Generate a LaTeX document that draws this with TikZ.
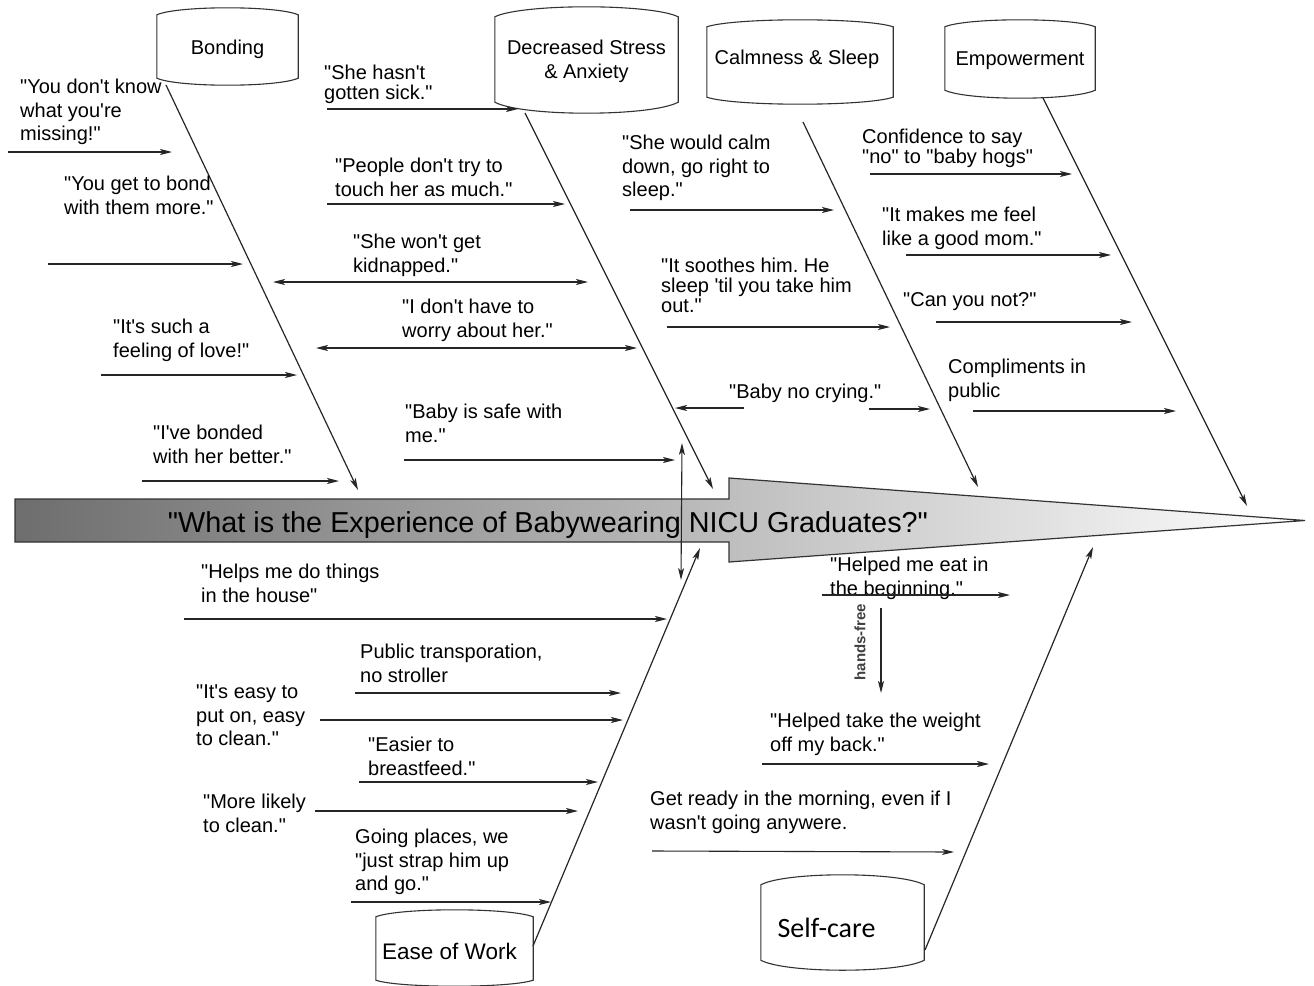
\documentclass[tikz,border=0pt]{standalone}
\usepackage{fontspec}
\setmainfont{Liberation Sans}[Ligatures=TeXOff]
\newfontfamily\calib{Carlito}
\usetikzlibrary{arrows.meta,calc}
\frenchspacing
\newcommand\drumpath[3]{%
  \draw[drumline] (#1.north west) -- (#1.south west)
    .. controls ($(#1.south west)!0.15!(#1.south east)+(0,#3*1.333)$) and ($(#1.south west)!0.85!(#1.south east)+(0,#3*1.333)$) .. (#1.south east)
    -- (#1.north east)
    .. controls ($(#1.north west)!0.85!(#1.north east)-(0,#2*1.333)$) and ($(#1.north west)!0.15!(#1.north east)-(0,#2*1.333)$) .. (#1.north west) -- cycle;}
\tikzset{
  every node/.style={inner sep=0pt},
  txt/.style={font=\fontsize{20}{23.5}\selectfont, align=left, anchor=north west},
  txtt/.style={font=\fontsize{20}{20}\selectfont, align=left, anchor=north west},
  drum/.style={font=\fontsize{20}{24}\selectfont, align=center},
  drumline/.style={draw=black!80, line width=1.1pt},
  ln/.style={line width=1.1pt, draw=black!85, ->},
  dbl/.style={line width=1.1pt, draw=black!85, <->},
  bone/.style={line width=1.2pt, draw=black!85, ->},
}
\begin{document}
\begin{tikzpicture}[x=1pt,y=-1pt,>={Stealth[length=12pt,width=6pt,inset=3pt]}]
\useasboundingbox (0,0) rectangle (1314,985);
% spine
\path[draw=black!80, line width=1.2pt, left color=black!57, right color=white]
  (15,499) -- (729,499) -- (729,478) -- (1305,520.5) -- (729,562) -- (729,542) -- (15,542) -- cycle;
\node[font=\fontsize{28.8}{30}\selectfont] (q) at (548,525) {"What is the Experience of Babywearing NICU Graduates?"};

% category drums
\node[drum, text height=15.4pt, text depth=0pt, minimum width=141pt, minimum height=63pt] (bond) at (227.5,46.5) {Bonding};
\node[drum, minimum width=183pt, minimum height=85pt] (stress) at (586.5,59.5) {\rule{0pt}{18.5pt}Decreased Stress\\\& Anxiety};
\node[drum, text height=4.4pt, text depth=0pt, minimum width=186pt, minimum height=70pt] (calm) at (800,62) {Calmness \& Sleep\hspace*{6pt}};
\node[drum, text height=13.4pt, text depth=0pt, minimum width=150pt, minimum height=63pt] (emp) at (1020,58.5) {Empowerment};
\node[drum, font=\fontsize{22.5}{24}\selectfont, text height=21pt, text depth=0pt, minimum width=157pt, minimum height=63pt] (ease) at (454.5,948.5) {Ease of Work\hspace*{10pt}};
\node[drum, font=\calib\fontsize{28}{30}\selectfont, text height=29pt, text depth=0pt, minimum width=163pt, minimum height=75pt] (self) at (842.5,922.5) {Self-care\hspace*{32pt}};
\drumpath{bond}{7}{7}
\drumpath{stress}{10}{11}
\drumpath{calm}{7}{7}
\drumpath{emp}{7}{8}
\drumpath{ease}{7}{6}
\drumpath{self}{10}{10}

% bones
\coordinate (bondfoot) at (166,85);   \coordinate (bondtip) at (358,490);
\coordinate (stressfoot) at (525,113); \coordinate (stresstip) at (713,489);
\coordinate (calmfoot) at (803,122);  \coordinate (calmtip) at (978,487);
\coordinate (empfoot) at (1043,98);   \coordinate (emptip) at (1247,506);
\coordinate (easefoot) at (533,946);  \coordinate (easetip) at (700,548);
\coordinate (selffoot) at (925,950);  \coordinate (selftip) at (1093,547);
\draw[bone] (bondfoot) -- (bondtip);
\draw[bone] (stressfoot) -- (stresstip);
\draw[bone] (calmfoot) -- (calmtip);
\draw[bone] (empfoot) -- (emptip);
\draw[bone] (easefoot) -- (easetip);
\draw[bone] (selffoot) -- (selftip);
\coordinate (vtop) at (682,443); \coordinate (vbot) at (681,580);
\draw[dbl] (vtop) -- (vbot);

% Bonding texts
\node[txt] (b1) at (20,79) {"You don't know\\what you're\\missing!"};
\node[txt] (b2) at (64,176) {"You get to bond\\with them more."};
\node[txt] (b3) at (113,319) {"It's such a\\feeling of love!"};
\node[txt] (b4) at (153,425) {"I've bonded\\with her better."};
\draw[ln] (8,152) coordinate (b1s) -- (172,152) coordinate (b1e);
\draw[ln] (48,264) coordinate (b2s) -- (243,264) coordinate (b2e);
\draw[ln] (101,375) coordinate (b3s) -- (297,375) coordinate (b3e);
\draw[ln] (142,481) coordinate (b4s) -- (339,481) coordinate (b4e);

% Stress texts
\node[txtt] (d1) at (324,65) {"She hasn't\\gotten sick."};
\node[txt] (d2) at (335,158) {"People don't try to\\touch her as much."};
\node[txt] (d3) at (353,234) {"She won't get\\kidnapped."};
\node[txt] (d4) at (402,299) {"I don't have to\\worry about her."};
\node[txt] (d5) at (405,404) {"Baby is safe with\\me."};
\draw[ln] (327,109) coordinate (d1s) -- (518,109) coordinate (d1e);
\draw[ln] (327,204) coordinate (d2s) -- (565,204) coordinate (d2e);
\draw[dbl] (273,282) coordinate (d3s) -- (588,282) coordinate (d3e);
\draw[dbl] (316,348) coordinate (d4s) -- (637,348) coordinate (d4e);
\draw[ln] (404,460) coordinate (d5s) -- (675,460) coordinate (d5e);

% Calmness texts
\node[txt] (c1) at (622,135) {"She would calm\\down, go right to\\sleep."};
\node[txtt] (c2) at (661,258) {"It soothes him. He\\sleep 'til you take him\\out."};
\node[txt] (c3) at (729,384) {"Baby no crying."};
\draw[ln] (630,210) coordinate (c1s) -- (834,210) coordinate (c1e);
\draw[ln] (667,327) coordinate (c2s) -- (890,327) coordinate (c2e);
\draw[ln] (744,408) coordinate (c3a) -- (675,408) coordinate (c3b);
\draw[ln] (869,409) coordinate (c3c) -- (930,409) coordinate (c3d);

% Empowerment texts
\node[txt, font=\fontsize{20}{18}\selectfont] (e1) at (862,129) {Confidence to say\\"no" to "baby hogs"};
\node[txt] (e2) at (882,207) {"It makes me feel\\like a good mom."};
\node[txt] (e3) at (903,292) {"Can you not?"};
\node[txt] (e4) at (948,359) {Compliments in\\public};
\draw[ln] (870,174) coordinate (e1s) -- (1072,174) coordinate (e1e);
\draw[ln] (906,255) coordinate (e2s) -- (1111,255) coordinate (e2e);
\draw[ln] (936,322) coordinate (e3s) -- (1132,322) coordinate (e3e);
\draw[ln] (973,411) coordinate (e4s) -- (1176,411) coordinate (e4e);

% Ease of work texts
\node[txt] (w1) at (201,564) {"Helps me do things\\in the house"};
\node[txt] (w2) at (360,644) {Public transporation,\\no stroller};
\node[txt] (w3) at (196,685) {"It's easy to\\put on, easy\\to clean."};
\node[txt] (w4) at (368,737) {"Easier to\\breastfeed."};
\node[txt] (w5) at (203,794) {"More likely\\to clean."};
\node[txt] (w6) at (355,829) {Going places, we\\"just strap him up\\and go."};
\draw[ln] (184,619) coordinate (w1s) -- (667,619) coordinate (w1e);
\draw[ln] (355,693) coordinate (w2s) -- (621,693) coordinate (w2e);
\draw[ln] (320,720) coordinate (w3s) -- (623,720) coordinate (w3e);
\draw[ln] (359,782) coordinate (w4s) -- (598,782) coordinate (w4e);
\draw[ln] (315,811) coordinate (w5s) -- (578,811) coordinate (w5e);
\draw[ln] (351,902) coordinate (w6s) -- (551,902) coordinate (w6e);

% Self-care texts
\node[txt] (s1) at (830,557) {"Helped me eat in\\the beginning."};
\node[txt] (s2) at (770,713) {"Helped take the weight\\off my back."};
\node[txt] (s3) at (650,791) {Get ready in the morning, even if I\\wasn't going anywere.};
\draw[ln] (822,595) coordinate (s1s) -- (1010,595) coordinate (s1e);
\draw[ln] (762,764) coordinate (s2s) -- (989,764) coordinate (s2e);
\draw[ln] (652,851) coordinate (s3s) -- (954,852) coordinate (s3e);
\coordinate (hfs) at (881,608); \coordinate (hfe) at (881,693);
\draw[ln] (hfs) -- (hfe);
\node[rotate=90, font=\bfseries\fontsize{15}{15}\selectfont, text=black!75] (hf) at (860,642) {hands-free};
\end{tikzpicture}
\end{document}
